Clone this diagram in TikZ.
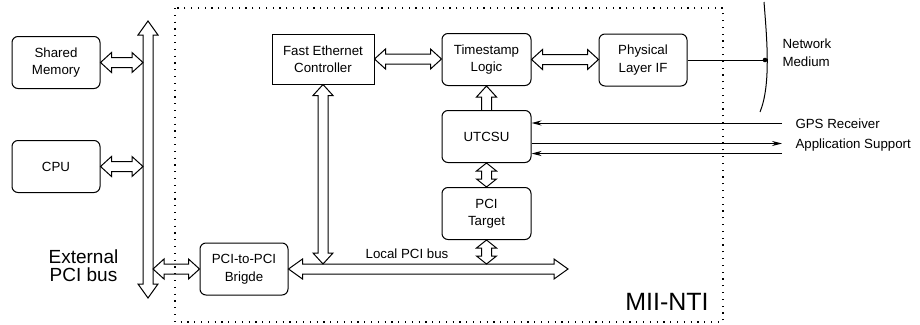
\documentclass[tikz,border=0pt]{standalone}
\usepackage{fontspec}
\setmainfont{Liberation Sans}
\usetikzlibrary{arrows.meta,calc}

\newcommand{\boxfont}{\fontsize{13.3}{17.5}\selectfont}
\newcommand{\busfont}{\fontsize{19}{18.5}\selectfont}
\newcommand{\ntifont}{\fontsize{25}{28}\selectfont}
\newcommand{\headlen}{11pt}
\newcommand{\headhalf}{10pt}
\newcommand{\shafthalf}{5pt}

\begin{document}
\begin{tikzpicture}[x=1pt,y=-1pt,line width=1pt,node distance=77pt,
  box/.style={draw,rounded corners=6pt,minimum width=89pt,minimum height=52pt,align=center,font=\boxfont},
  lbl/.style={inner sep=0pt,font=\boxfont},
  frame/.style={line width=1.3pt,dash pattern=on 1.2pt off 5.6pt},
  sig/.style={-{Stealth[length=10pt,width=5pt]}},
  bushead/.code={\def\headlen{#1}},
  hbus/.style={to path={let \p1=(\tikztostart), \p2=(\tikztotarget), \n1={(\x2>\x1)?1:-1} in
    (\x1,\y1) -- (\x1+\n1*\headlen,\y1+\headhalf) -- (\x1+\n1*\headlen,\y1+\shafthalf)
    -- (\x2-\n1*\headlen,\y1+\shafthalf) -- (\x2-\n1*\headlen,\y1+\headhalf) -- (\x2,\y1)
    -- (\x2-\n1*\headlen,\y1-\headhalf) -- (\x2-\n1*\headlen,\y1-\shafthalf)
    -- (\x1+\n1*\headlen,\y1-\shafthalf) -- (\x1+\n1*\headlen,\y1-\headhalf) -- cycle}},
  vbus/.style={to path={let \p1=(\tikztostart), \p2=(\tikztotarget), \n1={(\y2>\y1)?1:-1} in
    (\x1,\y1) -- (\x1+\headhalf,\y1+\n1*\headlen) -- (\x1+\shafthalf,\y1+\n1*\headlen)
    -- (\x1+\shafthalf,\y2-\n1*\headlen) -- (\x1+\headhalf,\y2-\n1*\headlen) -- (\x1,\y2)
    -- (\x1-\headhalf,\y2-\n1*\headlen) -- (\x1-\shafthalf,\y2-\n1*\headlen)
    -- (\x1-\shafthalf,\y1+\n1*\headlen) -- (\x1-\headhalf,\y1+\n1*\headlen) -- cycle}},
  sbus/.style={to path={let \p1=(\tikztostart), \p2=(\tikztotarget), \n1={(\y2>\y1)?1:-1} in
    (\x1-\shafthalf,\y1) -- (\x1-\shafthalf,\y2-\n1*\headlen) -- (\x1-\headhalf,\y2-\n1*\headlen)
    -- (\x1,\y2) -- (\x1+\headhalf,\y2-\n1*\headlen) -- (\x1+\shafthalf,\y2-\n1*\headlen)
    -- (\x1+\shafthalf,\y1)}}]
  \useasboundingbox (0,0) rectangle (920,324);
  \draw[frame]	(175,8) rectangle (723,322);

  \node[box,minimum width=88pt]	(SM)	at (56,62.5)	{Shared\\Memory};
  \node[box,minimum width=88pt]	(CPU)	at (56,166.5)	{CPU};
  \node[box,minimum width=88pt]	(PP)	at (244,269)	{PCI-to-PCI\\Brigde};
  \node[box,sharp corners,minimum width=102pt,minimum height=50pt]	(FE)	at (323,59)	{Fast Ethernet\\Controller};
  \node[box]	(TS)	at (486.5,59.5)	{Timestamp\\Logic};
  \node[box,minimum width=88pt]	(PH)	at (643,60)	{Physical\\Layer IF};
  \node[box]	(UT)	[below of=TS]	{UTCSU};
  \node[box]	(PT)	[below of=UT]	{PCI\\Target};

  \coordinate	(EBt)	at (148,21);
  \coordinate	(EBb)	at (148,298);
  \coordinate	(EBl)	at (143,0);
  \coordinate	(EBr)	at (153,0);
  \coordinate	(LBend)	at (568,269);
  \coordinate	(LBtop)	at (0,264);
  \coordinate	(NM)	at (765,60);
  \coordinate	(NMt)	at (764,2);
  \coordinate	(NMb)	at (760,112);
  \coordinate	(GPS)	at (782,123);
  \coordinate	(APP)	at (782,143.5);
  \coordinate	(APPin)	at (782,153.5);

  \draw[vbus,bushead=14pt]	(EBt) to (EBb);
  \draw[hbus]	(SM.east) to (SM.east -| EBl);
  \draw[hbus]	(CPU.east) to (CPU.east -| EBl);
  \draw[hbus]	(PP.west -| EBr) to (PP.west);
  \draw[hbus,bushead=14pt]	(PP.east) to (LBend);
  \draw[vbus]	(FE.south) to (FE.south |- LBtop);
  \draw[hbus]	(FE.east) to (TS.west);
  \draw[hbus]	(TS.east) to (PH.west);
  \draw[sbus]	(UT.north) to (TS.south);
  \draw[vbus,bushead=8pt]	(UT.south) to (PT.north);
  \draw[vbus,bushead=8pt]	(PT.south) to (PT.south |- LBtop);

  \draw	(PH.east) -- (NM);
  \fill	(NM) circle (2.3pt);
  \draw	(NMt) .. controls (767,40) and (771,85) .. (NMb);
  \draw[sig]	(GPS) -- (GPS -| UT.east);
  \draw[sig]	(APP -| UT.east) -- (APP);
  \draw[sig]	(APPin) -- (APPin -| UT.east);

  \node[lbl,font=\busfont,align=center]	(EXT)	at (83.5,265.5)	{External\\PCI bus};
  \node[lbl,anchor=base]	(LPB)	at (407,258)	{Local PCI bus};
  \node[lbl,align=left,anchor=west]	(NML)	at (782,52.5)	{Network\\Medium};
  \node[lbl,anchor=base west]	(GPSL)	at (795,128)	{GPS Receiver};
  \node[lbl,anchor=base west]	(APPL)	at (795,148.5)	{Application Support};
  \node[lbl,font=\ntifont,anchor=base]	(NTI)	at (667,310)	{MII-NTI};
\end{tikzpicture}
\end{document}
